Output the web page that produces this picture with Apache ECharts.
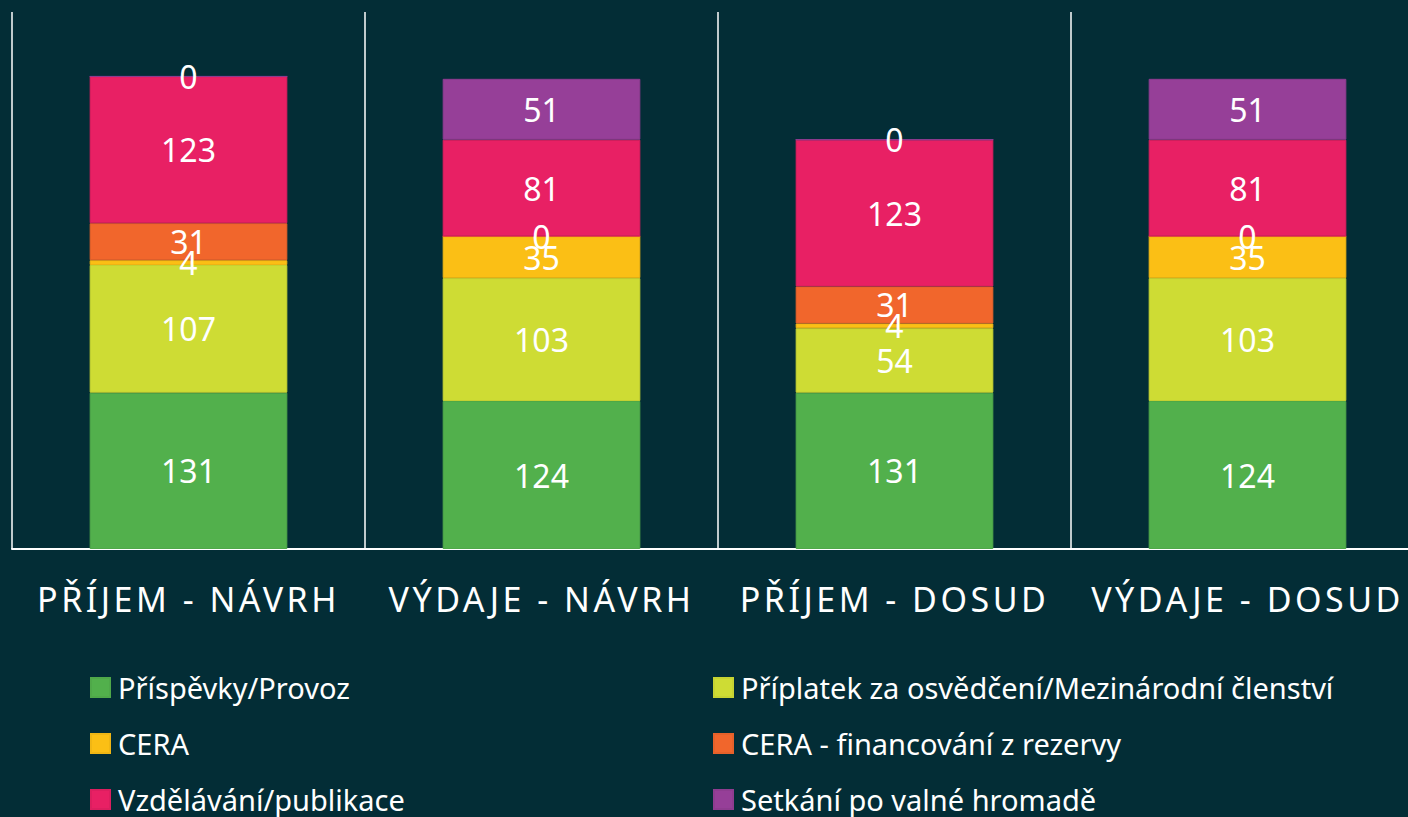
<!DOCTYPE html>
<html>
<head>
<meta charset="utf-8">
<script src="https://cdn.jsdelivr.net/npm/echarts@6/dist/echarts.min.js"></script>
<style>
html,body{margin:0;padding:0;background:#032d36;}
#chart{width:1408px;height:817px;}
</style>
</head>
<body>
<div id="chart"></div>
<script>
const categories = ['PŘÍJEM - NÁVRH', 'VÝDAJE - NÁVRH', 'PŘÍJEM - DOSUD', 'VÝDAJE - DOSUD'];
const seriesNames = ['Příspěvky/Provoz', 'Příplatek za osvědčení/Mezinárodní členství', 'CERA', 'CERA - financování z rezervy', 'Vzdělávání/publikace', 'Setkání po valné hromadě'];
const prispevky = [131, 124, 131, 124];
const priplatek = [107, 103, 54, 103];
const cera = [4, 35, 4, 35];
const ceraRezerva = [31, 0, 31, 0];
const vzdelavani = [123, 81, 123, 81];
const setkani = [0, 51, 0, 51];
const colors = ['#52b04c', '#cedc34', '#fbbf15', '#f1662c', '#e82064', '#963f98'];
const borders = ['#4fa849', '#c6d332', '#f0b614', '#e6612a', '#dc1e5f', '#8e3c90'];

const values = [prispevky, priplatek, cera, ceraRezerva, vzdelavani, setkani];
const FONT = 'Noto Sans';

const legendPos = [
  {left: 90, top: 673}, {left: 713, top: 673},
  {left: 90, top: 729}, {left: 713, top: 729},
  {left: 90, top: 785}, {left: 713, top: 785}
];

const chart = echarts.init(document.getElementById('chart'), null, {renderer: 'svg'});
chart.on('finished', function () {
  const texts = document.querySelectorAll('#chart svg text');
  texts.forEach(t => {
    if (categories.indexOf(t.textContent) >= 0) {
      t.style.letterSpacing = '3.5px';
    }
  });
});
chart.setOption({
  backgroundColor: '#032d36',
  animation: false,
  textStyle: {fontFamily: FONT},
  grid: {left: 12, right: -16, top: 12, bottom: 268, containLabel: false, outerBoundsMode: 'none'},
  xAxis: {
    type: 'category',
    data: categories,
    axisLine: {show: true, lineStyle: {color: '#ffffff', width: 2}},
    axisTick: {show: false},
    splitLine: {show: true, lineStyle: {color: '#ffffff', width: 1.5}},
    axisLabel: {color: '#ffffff', fontSize: 34, fontFamily: FONT, margin: 33, interval: 0}
  },
  yAxis: {
    type: 'value', min: 0, max: 450,
    show: false, splitLine: {show: false}
  },
  legend: seriesNames.map((name, i) => ({
    left: legendPos[i].left, top: legendPos[i].top, padding: 0,
    itemWidth: 19, itemHeight: 19, icon: 'rect',
    data: [name],
    textStyle: {color: '#ffffff', fontSize: 29, fontFamily: FONT, padding: [0, 0, 0, 3]}
  })),
  series: seriesNames.map((name, i) => ({
    name: name,
    type: 'bar',
    stack: 'total',
    barWidth: '56%',
    data: values[i],
    itemStyle: {color: colors[i], borderColor: borders[i], borderWidth: 1},
    label: {show: true, position: 'inside', color: '#ffffff', fontSize: 32, fontFamily: FONT},
    emphasis: {disabled: true}
  }))
});
</script>
</body>
</html>
